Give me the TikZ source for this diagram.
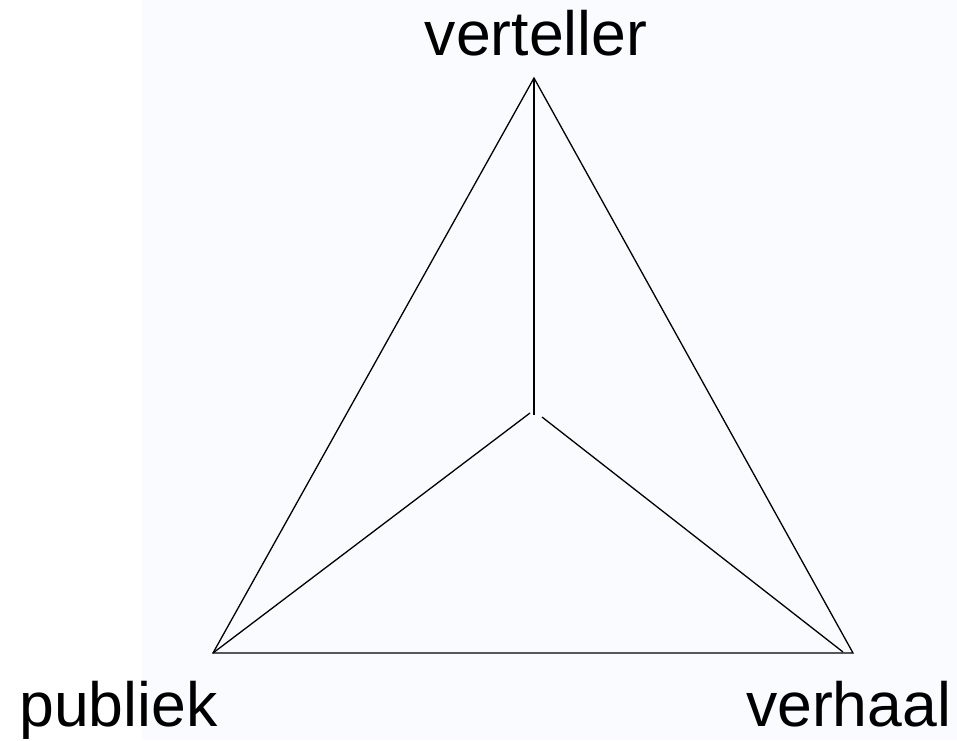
\documentclass[tikz,border=0pt]{standalone}
\usepackage{fontspec}
\setmainfont{Liberation Sans}
\definecolor{bgblue}{HTML}{FAFBFF}
\begin{document}
\begin{tikzpicture}[x=1pt,y=-1pt,
  lbl/.style={inner sep=0pt,anchor=base,font=\fontsize{62.5}{70}\selectfont},
  edge/.style={line width=1.3pt,black}]
\useasboundingbox (0,0) rectangle (957,740);
\fill[white] (0,0) rectangle (957,740);
\fill[bgblue] (142,0) rectangle (957,740);
\coordinate (top) at (534,78);
\coordinate (bl) at (213,653);
\coordinate (br) at (853,653);
\coordinate (cv) at (534,415);
\coordinate (cl) at (530,413);
\coordinate (cr) at (542,417);
\coordinate (brin) at (843,652);
\draw[edge,line join=miter] (top) -- (bl) -- (br) -- cycle;
\draw[edge] (top) -- (cv);
\draw[edge] (cl) -- (bl);
\draw[edge] (cr) -- (brin);
\node[lbl] (verteller) at (536,55) {verteller};
\node[lbl] (publiek) at (118.5,726) {publiek};
\node[lbl] (verhaal) at (848.5,726) {verhaal};
\end{tikzpicture}
\end{document}
